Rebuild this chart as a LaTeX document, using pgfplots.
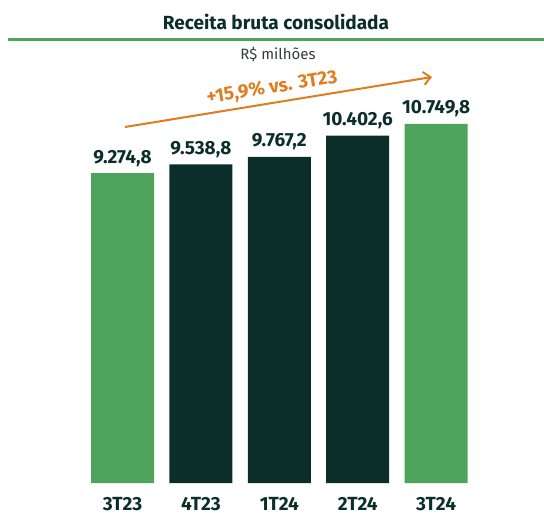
\documentclass[border=0pt]{standalone}
\usepackage{pgfplots}
\pgfplotsset{compat=1.18}
\usetikzlibrary{arrows.meta}
\usepackage{fontspec}
\setmainfont{Fira Sans}
\definecolor{lgreen}{HTML}{4EA35D}
\definecolor{dgreen}{HTML}{0C2E2B}
\definecolor{orng}{HTML}{E07B1F}
\definecolor{subc}{HTML}{2F3E3B}
\begin{document}
\begin{tikzpicture}[x=1pt,y=1pt]
\path[use as bounding box] (0,0) rectangle (544,512);
\begin{axis}[
  at={(83.3pt,29pt)}, anchor=south west,
  scale only axis, width=392pt, height=400.8pt,
  xmin=-0.5, xmax=4.5, ymin=0, ymax=12000,
  clip=false,
  axis line style={draw=none},
  tick style={draw=none},
  ytick=\empty,
  xtick={0,1,2,3,4},
  xticklabels={3T23,4T23,1T24,2T24,3T24},
  xticklabel style={anchor=base, inner sep=0pt, yshift=-23pt, text=dgreen, font=\bfseries\fontsize{19}{19}\selectfont},
  ybar, bar width=63pt, bar shift=0pt,
  /pgf/number format/.cd, use comma, 1000 sep={.}, fixed, fixed zerofill, precision=1, assume math mode=true,
  /pgfplots/.cd,
  nodes near coords,
  every node near coord/.append style={anchor=base, yshift=10pt, text=dgreen, font=\bfseries\fontsize{19}{19}\selectfont},
]
\addplot[fill=lgreen, draw=none] coordinates {(0,9274.8) (4,10749.8)};
\addplot[fill=dgreen, draw=none] coordinates {(1,9538.8) (2,9767.2) (3,10402.6)};
\end{axis}
\node[anchor=base, text=dgreen, font=\bfseries\fontsize{19}{19}\selectfont] at (276,482) {Receita bruta consolidada};
\draw[lgreen, line width=3pt] (8,472) -- (544,472);
\node[anchor=base, text=subc, font=\fontsize{15}{15}\selectfont] at (278,452) {R\$ milhões};
\draw[orng, line width=2pt, -{Straight Barb[length=7pt,width=13pt]}] (125,385) -- (432,435);
\node[rotate=9, inner sep=1pt, text=orng, font=\bfseries\fontsize{19}{19}\selectfont] at (272,424) {+15,9\% vs. 3T23};
\end{tikzpicture}
\end{document}
